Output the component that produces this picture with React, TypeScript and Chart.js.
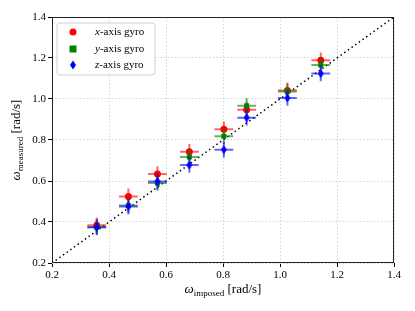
import React, { useEffect, useRef } from "react";
import { Chart, registerables } from "chart.js";
Chart.register(...registerables);

const imposed = [0.357, 0.468, 0.570, 0.682, 0.803, 0.883, 1.026, 1.143];
const xGyro = [0.384, 0.525, 0.634, 0.743, 0.852, 0.948, 1.042, 1.189];
const yGyro = [0.374, 0.480, 0.590, 0.717, 0.818, 0.967, 1.036, 1.166];
const zGyro = [0.375, 0.476, 0.598, 0.678, 0.753, 0.909, 1.005, 1.124];
const xErr = [0.033, 0.033, 0.033, 0.033, 0.033, 0.033, 0.033, 0.033];
const yErr = [0.038, 0.038, 0.038, 0.038, 0.038, 0.038, 0.038, 0.038];
const identityLine = [0.2, 1.4];
const tickValues = [0.2, 0.4, 0.6, 0.8, 1.0, 1.2, 1.4];
const seriesVars = ["x", "y", "z"];
const seriesText = "-axis gyro";
const seriesColors = ["#ff0000", "#008000", "#0000ff"];
const errColors = ["rgba(255,0,0,0.6)", "rgba(0,128,0,0.6)", "rgba(0,0,255,0.6)"];
const xTitle = ["\u03c9", "imposed", " [rad/s]"];
const yTitle = ["\u03c9", "measured", " [rad/s]"];

const SERIF = "'Liberation Serif', 'DejaVu Serif', serif";

function makeThinDiamond(color: string) {
  const c = document.createElement("canvas");
  c.width = 8;
  c.height = 10;
  const ctx = c.getContext("2d")!;
  ctx.fillStyle = color;
  ctx.beginPath();
  ctx.moveTo(4, 0.5);
  ctx.lineTo(7, 5);
  ctx.lineTo(4, 9.5);
  ctx.lineTo(1, 5);
  ctx.closePath();
  ctx.fill();
  return c;
}

function drawTitle(ctx: CanvasRenderingContext2D, parts: string[], cx: number, cy: number, rotate: boolean) {
  ctx.save();
  ctx.translate(cx, cy);
  if (rotate) ctx.rotate(-Math.PI / 2);
  const f1 = "italic 13px " + SERIF;
  const f2 = "9px " + SERIF;
  const f3 = "13px " + SERIF;
  ctx.font = f1;
  const w1 = ctx.measureText(parts[0]).width;
  ctx.font = f2;
  const w2 = ctx.measureText(parts[1]).width;
  ctx.font = f3;
  const w3 = ctx.measureText(parts[2]).width;
  let x = -(w1 + w2 + w3) / 2;
  ctx.fillStyle = "#000";
  ctx.textBaseline = "alphabetic";
  ctx.font = f1;
  ctx.fillText(parts[0], x, 4);
  x += w1;
  ctx.font = f2;
  ctx.fillText(parts[1], x, 7);
  x += w2;
  ctx.font = f3;
  ctx.fillText(parts[2], x, 4);
  ctx.restore();
}

const decorPlugin = {
  id: "decor",
  beforeDatasetDraw(chart: any, args: any) {
    const ds = chart.data.datasets[args.index];
    if (!ds.errX) return;
    const ctx = chart.ctx;
    const xs = chart.scales.x;
    const ys = chart.scales.y;
    ctx.save();
    ctx.strokeStyle = ds.errColor;
    ctx.lineWidth = 2;
    ds.data.forEach((p: any, i: number) => {
      const px = xs.getPixelForValue(p.x);
      const py = ys.getPixelForValue(p.y);
      ctx.beginPath();
      ctx.moveTo(xs.getPixelForValue(p.x - ds.errX[i]), py);
      ctx.lineTo(xs.getPixelForValue(p.x + ds.errX[i]), py);
      ctx.moveTo(px, ys.getPixelForValue(p.y - ds.errY[i]));
      ctx.lineTo(px, ys.getPixelForValue(p.y + ds.errY[i]));
      ctx.stroke();
    });
    ctx.restore();
  },
  afterDraw(chart: any) {
    const ctx = chart.ctx as CanvasRenderingContext2D;
    const a = chart.chartArea;
    ctx.save();
    ctx.strokeStyle = "#222";
    ctx.lineWidth = 1;
    ctx.strokeRect(a.left + 0.5, a.top + 0.5, a.right - a.left - 1, a.bottom - a.top - 1);
    // legend
    const lx = 57, ly = 23, lw = 98, lh = 52, r = 3;
    ctx.beginPath();
    ctx.moveTo(lx + r, ly);
    ctx.lineTo(lx + lw - r, ly);
    ctx.quadraticCurveTo(lx + lw, ly, lx + lw, ly + r);
    ctx.lineTo(lx + lw, ly + lh - r);
    ctx.quadraticCurveTo(lx + lw, ly + lh, lx + lw - r, ly + lh);
    ctx.lineTo(lx + r, ly + lh);
    ctx.quadraticCurveTo(lx, ly + lh, lx, ly + lh - r);
    ctx.lineTo(lx, ly + r);
    ctx.quadraticCurveTo(lx, ly, lx + r, ly);
    ctx.closePath();
    ctx.fillStyle = "rgba(255,255,255,0.8)";
    ctx.fill();
    ctx.strokeStyle = "#d0d0d0";
    ctx.stroke();
    const rows = [32, 49, 65];
    rows.forEach((ry, i) => {
      const mx = 73;
      ctx.fillStyle = seriesColors[i];
      if (i === 0) {
        ctx.beginPath();
        ctx.arc(mx, ry, 3.5, 0, Math.PI * 2);
        ctx.fill();
      } else if (i === 1) {
        ctx.fillRect(mx - 3.5, ry - 3.5, 7, 7);
      } else {
        ctx.beginPath();
        ctx.moveTo(mx, ry - 4.5);
        ctx.lineTo(mx + 3, ry);
        ctx.lineTo(mx, ry + 4.5);
        ctx.lineTo(mx - 3, ry);
        ctx.closePath();
        ctx.fill();
      }
      ctx.fillStyle = "#000";
      ctx.textBaseline = "middle";
      ctx.font = "italic 11px " + SERIF;
      ctx.fillText(seriesVars[i], 95, ry);
      const w = ctx.measureText(seriesVars[i]).width;
      ctx.font = "11px " + SERIF;
      ctx.fillText(seriesText, 95 + w, ry);
    });
    ctx.restore();
    drawTitle(ctx, xTitle, (a.left + a.right) / 2, 289, false);
    drawTitle(ctx, yTitle, 16, (a.top + a.bottom) / 2, true);
  },
};

export default function App() {
  const ref = useRef<HTMLCanvasElement>(null);
  useEffect(() => {
    document.body.style.margin = "0";
    const mk = (vals: number[]) => imposed.map((x, i) => ({ x, y: vals[i] }));
    const axis = (which: "x" | "y") => ({
      type: "linear" as const,
      min: tickValues[0],
      max: tickValues[tickValues.length - 1],
      afterBuildTicks: (s: any) => {
        s.ticks = tickValues.map((v) => ({ value: v }));
      },
      afterFit: (s: any) => {
        if (which === "y") s.width = 52;
        else s.height = 48;
      },
      ticks: {
        font: { family: SERIF, size: 11 },
        color: "#000",
        padding: 2,
        callback: (v: any) => Number(v).toFixed(1),
      },
      grid: {
        color: "#d4d4d4",
        lineWidth: 1,
        drawTicks: true,
        tickLength: 4,
        tickColor: "#000",
        tickBorderDash: [],
      },
      border: { display: false, dash: [1.5, 2] },
    });
    const chart = new Chart(ref.current!, {
      type: "scatter",
      data: {
        datasets: [
          {
            type: "line",
            data: identityLine.map((v) => ({ x: v, y: v })),
            borderColor: "#000",
            borderWidth: 1.5,
            borderDash: [1.5, 3],
            pointRadius: 0,
            fill: false,
            order: 10,
          } as any,
          {
            data: mk(xGyro),
            backgroundColor: seriesColors[0],
            borderColor: seriesColors[0],
            pointStyle: "circle",
            pointRadius: 3.5,
            borderWidth: 0,
            errX: xErr,
            errY: yErr,
            errColor: errColors[0],
            order: 3,
          } as any,
          {
            data: mk(yGyro),
            backgroundColor: seriesColors[1],
            borderColor: seriesColors[1],
            pointStyle: "rect",
            pointRadius: 3.5,
            borderWidth: 0,
            errX: xErr,
            errY: yErr,
            errColor: errColors[1],
            order: 2,
          } as any,
          {
            data: mk(zGyro),
            backgroundColor: seriesColors[2],
            borderColor: seriesColors[2],
            pointStyle: makeThinDiamond(seriesColors[2]),
            pointRadius: 4,
            borderWidth: 0,
            errX: xErr,
            errY: yErr,
            errColor: errColors[2],
            order: 1,
          } as any,
        ],
      },
      options: {
        animation: false,
        responsive: false,
        devicePixelRatio: 1,
        layout: { padding: { left: 0, top: 17, right: 21, bottom: 0 } },
        plugins: { legend: { display: false }, tooltip: { enabled: false } },
        scales: { x: axis("x"), y: axis("y") } as any,
      },
      plugins: [decorPlugin],
    });
    return () => chart.destroy();
  }, []);
  return (
    <div style={{ position: "absolute", left: 0, top: 0, width: 415, height: 311 }}>
      <canvas ref={ref} width={415} height={311} />
    </div>
  );
}
